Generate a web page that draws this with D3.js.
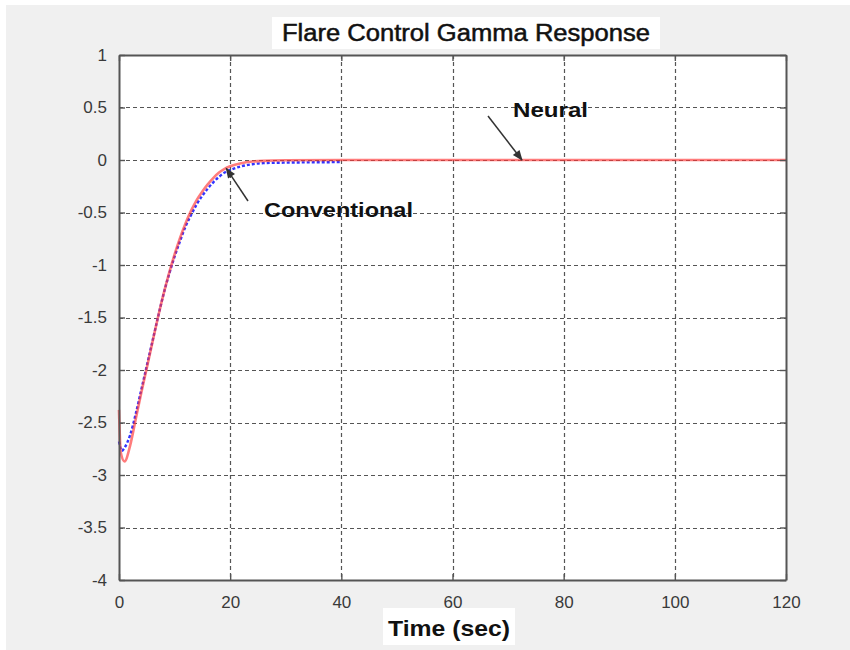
<!DOCTYPE html>
<html>
<head>
<meta charset="utf-8">
<script src="https://cdn.jsdelivr.net/npm/d3@7"></script>
<style>
  html, body { margin: 0; padding: 0; background: #fff; }
  svg { display: block; }
</style>
</head>
<body>
<svg id="chart" width="850" height="650"></svg>
<script>
// ---- data ----
const xTicks = [0, 20, 40, 60, 80, 100, 120];
const yTicks = [1, 0.5, 0, -0.5, -1, -1.5, -2, -2.5, -3, -3.5, -4];
const yTickLabels = ["1", "0.5", "0", "-0.5", "-1", "-1.5", "-2", "-2.5", "-3", "-3.5", "-4"];

const timeNeural = [0, 0.3, 1, 2, 3, 4, 5, 6, 7, 8, 9, 10, 11, 12, 13, 14, 15, 16, 17, 18, 19, 20, 22, 24, 26, 30, 40, 60, 80, 100, 120];
const neural = [-2.38, -2.78, -2.87, -2.72, -2.47, -2.22, -1.98, -1.74, -1.5, -1.28, -1.08, -0.9, -0.74, -0.6, -0.48, -0.38, -0.3, -0.23, -0.17, -0.12, -0.085, -0.06, -0.03, -0.015, -0.008, -0.003, 0, 0, 0, 0, 0];

const timeConv = [0, 0.5, 1, 2, 3, 4, 5, 6, 7, 8, 9, 10, 11, 12, 13, 14, 15, 16, 17, 18, 19, 20, 22, 24, 26, 30, 35, 40];
const conventional = [-2.68, -2.77, -2.74, -2.62, -2.42, -2.19, -1.96, -1.73, -1.5, -1.28, -1.09, -0.92, -0.77, -0.63, -0.52, -0.42, -0.34, -0.27, -0.21, -0.16, -0.12, -0.095, -0.06, -0.04, -0.03, -0.025, -0.022, -0.02];

const titleText = "Flare Control Gamma Response";
const xLabelText = "Time (sec)";

// ---- layout ----
const svg = d3.select("#chart");
const W = 850, H = 650;
const plot = { left: 119, right: 786, top: 55, bottom: 580 };

svg.append("rect").attr("x", 6).attr("y", 5).attr("width", W - 6).attr("height", H - 5).attr("fill", "#f0f0f0");

const x = d3.scaleLinear().domain([0, 120]).range([plot.left, plot.right]);
const y = d3.scaleLinear().domain([-4, 1]).range([plot.bottom, plot.top]);

svg.append("rect")
  .attr("x", plot.left).attr("y", plot.top)
  .attr("width", plot.right - plot.left).attr("height", plot.bottom - plot.top)
  .attr("fill", "#ffffff");

// grid
const grid = svg.append("g").attr("stroke", "#555").attr("stroke-width", 1.2).attr("stroke-dasharray", "4,3");
grid.selectAll("line.vx").data(xTicks.slice(1, -1)).enter().append("line")
  .attr("x1", d => Math.round(x(d)) + 0.5).attr("x2", d => Math.round(x(d)) + 0.5)
  .attr("y1", plot.top).attr("y2", plot.bottom);
grid.selectAll("line.hy").data(yTicks.slice(1, -1)).enter().append("line")
  .attr("y1", d => Math.round(y(d)) + 0.5).attr("y2", d => Math.round(y(d)) + 0.5)
  .attr("x1", plot.left).attr("x2", plot.right);

// lines
const lineN = d3.line().x((d, i) => x(timeNeural[i])).y(d => y(d)).curve(d3.curveMonotoneX);
const lineC = d3.line().x((d, i) => x(timeConv[i])).y(d => y(d)).curve(d3.curveMonotoneX);

svg.append("path").attr("d", lineC(conventional))
  .attr("fill", "none").attr("stroke", "#3333ff").attr("stroke-width", 2.4)
  .attr("stroke-dasharray", "3,2");
svg.append("path").attr("d", lineN(neural))
  .attr("fill", "none").attr("stroke", "#ff3535").attr("stroke-opacity", 0.65).attr("stroke-width", 2.6);

// axes (MATLAB-style box with inner ticks)
const axisColor = "#555";
const fontFam = "'Liberation Sans', Arial, sans-serif";
const xAxB = d3.axisBottom(x).tickValues(xTicks).tickSizeInner(-6).tickSizeOuter(0).tickPadding(16);
const gxb = svg.append("g").attr("transform", `translate(0,${plot.bottom})`).call(xAxB);
const xAxT = d3.axisTop(x).tickValues(xTicks).tickSizeInner(-6).tickSizeOuter(0).tickFormat("");
const gxt = svg.append("g").attr("transform", `translate(0,${plot.top})`).call(xAxT);
const yAxL = d3.axisLeft(y).tickValues(yTicks).tickSizeInner(-6).tickSizeOuter(0).tickPadding(12)
  .tickFormat((d, i) => yTickLabels[i]);
const gyl = svg.append("g").attr("transform", `translate(${plot.left},0)`).call(yAxL);
const yAxR = d3.axisRight(y).tickValues(yTicks).tickSizeInner(-6).tickSizeOuter(0).tickFormat("");
const gyr = svg.append("g").attr("transform", `translate(${plot.right},0)`).call(yAxR);

[gxb, gxt, gyl, gyr].forEach(g => {
  g.select(".domain").attr("stroke", axisColor).attr("stroke-width", 2);
  g.selectAll(".tick line").attr("stroke", axisColor).attr("stroke-width", 1.4);
  g.selectAll("text").attr("fill", "#3a3a3a").style("font-family", fontFam).style("font-size", "17px");
});
gxb.selectAll(".tick text").attr("dy", "0.71em");

// title
const tg = svg.append("g");
tg.append("rect").attr("x", 272).attr("y", 17).attr("width", 388).attr("height", 32).attr("fill", "#fff");
tg.append("text").attr("x", 466).attr("y", 41).attr("text-anchor", "middle")
  .attr("textLength", 368).attr("lengthAdjust", "spacingAndGlyphs")
  .style("font-family", fontFam).style("font-size", "23px").attr("fill", "#111")
  .attr("stroke", "#111").attr("stroke-width", 0.5)
  .text(titleText);

// x label
const xg = svg.append("g");
xg.append("rect").attr("x", 383).attr("y", 608).attr("width", 132).attr("height", 37).attr("fill", "#fff");
xg.append("text").attr("x", 449).attr("y", 636).attr("text-anchor", "middle")
  .attr("textLength", 122).attr("lengthAdjust", "spacingAndGlyphs")
  .style("font-family", fontFam).style("font-size", "22px").style("font-weight", "bold").attr("fill", "#111")
  .text(xLabelText);

// annotations
const defs = svg.append("defs");
defs.append("marker").attr("id", "arr").attr("viewBox", "0 0 10 10").attr("refX", 9).attr("refY", 5)
  .attr("markerWidth", 9).attr("markerHeight", 7).attr("orient", "auto-start-reverse")
  .append("path").attr("d", "M0,1 L10,5 L0,9 Z").attr("fill", "#333");

function annotate(label, tx, ty, len, fromX, fromY, toT, toV) {
  svg.append("line").attr("x1", fromX).attr("y1", fromY).attr("x2", x(toT)).attr("y2", y(toV))
    .attr("stroke", "#333").attr("stroke-width", 1.5).attr("marker-end", "url(#arr)");
  svg.append("text").attr("x", tx).attr("y", ty)
    .attr("textLength", len).attr("lengthAdjust", "spacingAndGlyphs")
    .style("font-family", fontFam).style("font-size", "21px").style("font-weight", "bold").attr("fill", "#111")
    .text(label);
}
annotate("Neural", 513, 117, 75, 488, 116, 72.5, 0);
annotate("Conventional", 264, 217, 149, 248, 201, 19.3, -0.08);
</script>
</body>
</html>
